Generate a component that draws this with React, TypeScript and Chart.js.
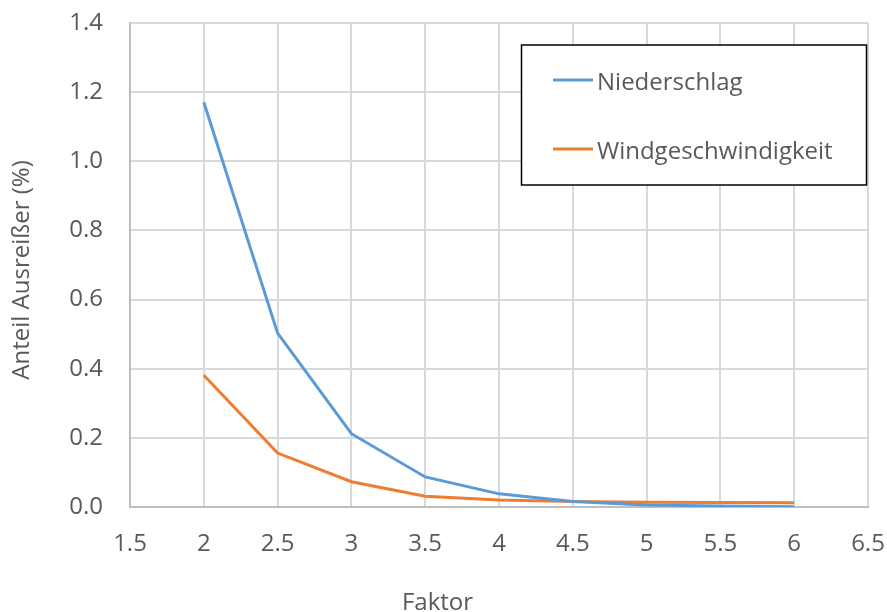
import React, { useEffect, useRef } from "react";
import { Chart, registerables } from "chart.js";

Chart.register(...registerables);

// Factor values on the x axis
const factors = [2, 2.5, 3, 3.5, 4, 4.5, 5, 5.5, 6];
// Share of outliers (%) per factor
const niederschlag = [1.171, 0.503, 0.212, 0.087, 0.038, 0.016, 0.006, 0.003, 0.001];
const windgeschwindigkeit = [0.381, 0.156, 0.073, 0.031, 0.02, 0.016, 0.014, 0.013, 0.012];

const seriesLabels = ["Niederschlag", "Windgeschwindigkeit"];
const seriesColors = ["#5B9BD5", "#ED7D31"];

const xTitle = "Faktor";
const yTitle = "Anteil Ausreißer (%)";

const FONT = "'Open Sans', 'DejaVu Sans', sans-serif";
const TEXT = "#595959";

const toPoints = (ys: number[]) => factors.map((x, i) => ({ x, y: ys[i] }));

// Axis titles and the boxed legend inside the plot
const overlayPlugin = {
  id: "overlay",
  afterDraw(chart: any) {
    const ctx: CanvasRenderingContext2D = chart.ctx;
    ctx.save();
    ctx.fillStyle = TEXT;
    ctx.font = `24px ${FONT}`;
    ctx.textBaseline = "alphabetic";

    // x title, centred on the figure
    ctx.textAlign = "center";
    ctx.fillText(xTitle, chart.width / 2 - 6, 610);

    // y title, rotated
    ctx.save();
    ctx.translate(29, (chart.chartArea.top + chart.chartArea.bottom) / 2 + 5);
    ctx.rotate(-Math.PI / 2);
    ctx.fillText(yTitle, 0, 0);
    ctx.restore();

    // legend box
    const bx = 521.5, by = 45, bw = 345, bh = 140;
    ctx.fillStyle = "#ffffff";
    ctx.fillRect(bx, by, bw, bh);
    ctx.strokeStyle = "#000000";
    ctx.lineWidth = 1.5;
    ctx.strokeRect(bx, by, bw, bh);

    const rows = [80, 149];
    chart.data.datasets.forEach((ds: any, i: number) => {
      const y = rows[i];
      ctx.strokeStyle = ds.borderColor;
      ctx.lineWidth = 3;
      ctx.beginPath();
      ctx.moveTo(553, y);
      ctx.lineTo(593, y);
      ctx.stroke();
      ctx.fillStyle = TEXT;
      ctx.textAlign = "left";
      ctx.fillText(ds.label, 597, y + 10);
    });
    ctx.restore();
  },
};

export default function App() {
  const canvasRef = useRef<HTMLCanvasElement | null>(null);

  useEffect(() => {
    if (!canvasRef.current) return;
    const chart = new Chart(canvasRef.current, {
      type: "line",
      data: {
        datasets: [
          {
            label: seriesLabels[0],
            data: toPoints(niederschlag),
            borderColor: seriesColors[0],
            backgroundColor: seriesColors[0],
            borderWidth: 3,
            pointRadius: 0,
            tension: 0,
          },
          {
            label: seriesLabels[1],
            data: toPoints(windgeschwindigkeit),
            borderColor: seriesColors[1],
            backgroundColor: seriesColors[1],
            borderWidth: 3,
            pointRadius: 0,
            tension: 0,
          },
        ],
      },
      options: {
        animation: false,
        responsive: false,
        locale: "en-US",
        layout: { padding: { top: 23, right: 19, left: 0, bottom: 0 } },
        plugins: {
          legend: { display: false },
          tooltip: { enabled: false },
        },
        scales: {
          x: {
            type: "linear",
            min: 1.5,
            max: 6.5,
            ticks: {
              stepSize: 0.5,
              padding: 0,
              color: TEXT,
              font: { family: FONT, size: 24 },
              callback: (v: any) => String(Number(v)),
            },
            grid: {
              color: "#d9d9d9",
              lineWidth: 2,
              drawTicks: true,
              tickLength: 23,
              tickColor: "rgba(0,0,0,0)",
            },
            border: { color: "#bfbfbf", width: 2 },
            afterFit: (s: any) => {
              s.height = 105;
            },
          },
          y: {
            min: 0,
            max: 1.4,
            ticks: {
              stepSize: 0.2,
              padding: 0,
              color: TEXT,
              font: { family: FONT, size: 24 },
              callback: (v: any) => Number(v).toFixed(1),
            },
            grid: {
              color: "#d9d9d9",
              lineWidth: 2,
              drawTicks: true,
              tickLength: 27,
              tickColor: "rgba(0,0,0,0)",
            },
            border: { color: "#bfbfbf", width: 2 },
            afterFit: (s: any) => {
              s.width = 130;
            },
          },
        },
      },
      plugins: [overlayPlugin],
    });
    return () => chart.destroy();
  }, []);

  return (
    <div style={{ position: "absolute", left: 0, top: 0, width: 887, height: 612, background: "#fff" }}>
      <canvas ref={canvasRef} width={887} height={612} />
    </div>
  );
}
